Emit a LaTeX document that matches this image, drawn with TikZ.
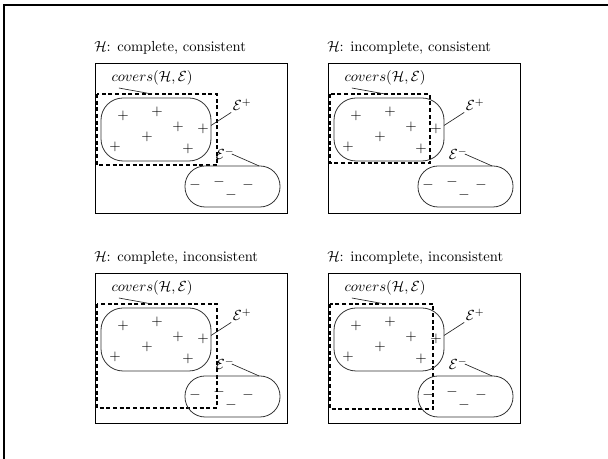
\documentclass[tikz,border=0pt]{standalone}
\usepackage{amsmath,amssymb}
\usetikzlibrary{calc}

\tikzset{
  frame/.style={draw, line width=0.7pt},
  cover/.style={draw, line width=0.8pt, dash pattern=on 3pt off 2pt},
  blob/.style={draw, black!80, line width=0.6pt, inner sep=0pt, outer sep=0pt},
  leader/.style={draw, black!85, line width=0.5pt},
  sign/.style={inner sep=0pt, font=\fontsize{11}{12}\selectfont},
  lbl/.style={inner sep=1pt}
}

\begin{document}
\begin{tikzpicture}[x=0.75pt, y=-0.75pt, every node/.style={font=\fontsize{10.95}{13}\selectfont}]

% page size and the two edge rules
\useasboundingbox (0,0) rectangle (608,459);
\draw[line width=1.6pt] (608,5) -- (4,5) -- (4,459);

% --- four panels: name / left / top / title / cover right / cover bottom ---
\foreach \p/\x/\y/\ttl/\dr/\db in {
    a/95/63/{complete, consistent}/122/102,
    b/328/63/{incomplete, consistent}/102/100,
    c/95/273/{complete, inconsistent}/122/135,
    d/328/273/{incomplete, inconsistent}/105/136}{
  \begin{scope}[shift={(\x,\y)}]
    % title and frame
    \node[anchor=west, inner sep=0pt] (\p-title) at (-1,-15) {$\mathcal{H}$: \ttl};
    \draw[frame] (0,0) rectangle (192,150);

    % cover region of H
    \draw[cover] (2,31) rectangle (\dr,\db);
    \coordinate (\p-cov) at (57,31);

    % positive and negative examples
    \node[blob, rounded corners=16.5pt, minimum width=82.5pt, minimum height=47.25pt] (\p-pos) at (61,66.5) {};
    \node[blob, rounded corners=15pt, minimum width=71.25pt, minimum height=30.75pt] (\p-neg) at (137.5,123.5) {};

    \foreach \sx/\sy [count=\i] in {28/53, 62/49, 83/64, 108/66, 52/74, 20/84, 93/86}
      \node[sign] (\p-plus\i) at (\sx,\sy) {$+$};
    \foreach \sx/\sy [count=\i] in {100/122, 124/119, 153/122, 136/132}
      \node[sign] (\p-minus\i) at (\sx,\sy) {$-$};

    % labels with leaders
    \node (\p-covers) at (57,15) {$covers(\mathcal{H},\mathcal{E})$};
    \node[lbl] (\p-eplus) at (147,42) {$\mathcal{E}^+$};
    \node[lbl] (\p-eminus) at (130,91) {$\mathcal{E}^-$};

    \draw[leader] ([shift={(9pt,1.5pt)}]\p-covers.south west) -- (\p-cov);
    \draw[leader] ([yshift=3pt]\p-pos.east) -- (\p-eplus.south west);
    \draw[leader] ([xshift=-3pt]\p-eminus.east) -- ([xshift=20pt]\p-neg.north);
  \end{scope}
}

\end{tikzpicture}
\end{document}
